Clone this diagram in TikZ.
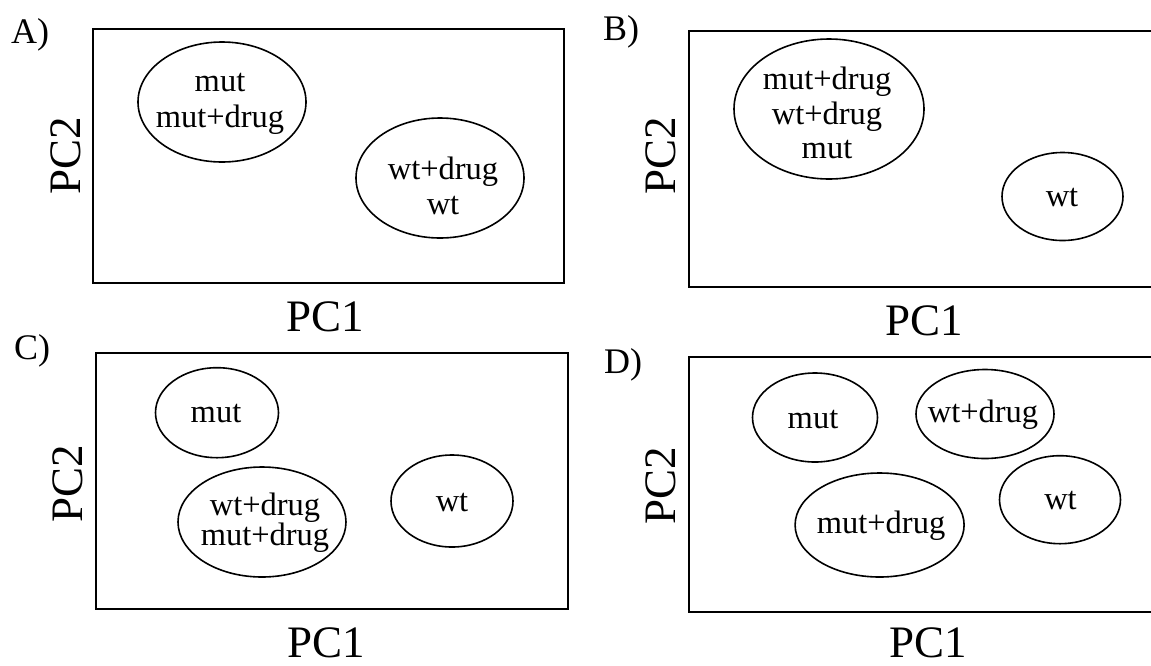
\documentclass[tikz,border=0pt]{standalone}
\usepackage{fontspec}
\setmainfont{Liberation Serif}
\usetikzlibrary{shapes.geometric}
\begin{document}
\begin{tikzpicture}[x=1pt,y=-1pt,
  frame/.style={draw, line width=1.7pt},
  blob/.style={draw, ellipse, line width=1.6pt, inner sep=0pt},
  grp/.style={inner sep=0pt, align=center, font=\fontsize{32.5}{36}\selectfont},
  axis/.style={inner sep=0pt, anchor=base, font=\fontsize{45}{50}\selectfont},
  tag/.style={inner sep=0pt, anchor=base west, font=\fontsize{36}{40}\selectfont}
]
\useasboundingbox[fill=white] (0,0) rectangle (1151,665);

% ---------- Panel A ----------
\node[tag] (tA) at (11,43) {A)};
\draw[frame] (93,29) rectangle (564,283);
\node[axis] (xA) at (325,331.5) {PC1};
\node[axis, rotate=90] (yA) at (80,156) {PC2};
\node[blob, minimum width=168pt, minimum height=120pt] (a1) at (222,102) {};
\node[grp] (a1t) at (220,104) {mut\\mut+drug};
\node[blob, minimum width=168pt, minimum height=120pt] (a2) at (440,178) {};
\node[grp, font=\fontsize{32.5}{35}\selectfont] (a2t) at (443,185.5) {wt+drug\\wt};

% ---------- Panel B ----------
\node[tag] (tB) at (603,40) {B)};
\draw[frame] (689,31) rectangle (1156,287);
\node[axis] (xB) at (924,335.5) {PC1};
\node[axis, rotate=90] (yB) at (675,156) {PC2};
\node[blob, minimum width=190pt, minimum height=140pt] (b1) at (829,109) {};
\node[grp, font=\fontsize{32.5}{34.2}\selectfont] (b1t) at (827,113) {mut+drug\\wt+drug\\mut};
\node[blob, minimum width=121pt, minimum height=88pt] (b2) at (1062.5,196.5) {};
\node[grp] (b2t) at (1062,198) {wt};

% ---------- Panel C ----------
\node[tag] (tC) at (14,359) {C)};
\draw[frame] (96,353) rectangle (568,609);
\node[axis] (xC) at (326,657) {PC1};
\node[axis, rotate=90] (yC) at (82,484) {PC2};
\node[blob, minimum width=123pt, minimum height=90pt] (c1) at (217,412.7) {};
\node[grp] (c1t) at (216,414) {mut};
\node[blob, minimum width=168pt, minimum height=110pt] (c2) at (262,522) {};
\node[grp, font=\fontsize{32.5}{30}\selectfont] (c2t) at (265,522.5) {wt+drug\\mut+drug};
\node[blob, minimum width=122pt, minimum height=92pt] (c3) at (452,501) {};
\node[grp] (c3t) at (452,502) {wt};

% ---------- Panel D ----------
\node[tag] (tD) at (604,373) {D)};
\draw[frame] (689,357) rectangle (1156,612);
\node[axis] (xD) at (928.5,657.5) {PC1};
\node[axis, rotate=90] (yD) at (675,486) {PC2};
\node[blob, minimum width=125pt, minimum height=89pt] (d1) at (815,417.5) {};
\node[grp] (d1t) at (813,419.7) {mut};
\node[blob, minimum width=138pt, minimum height=89pt] (d2) at (985,414) {};
\node[grp] (d2t) at (983,415) {wt+drug};
\node[blob, minimum width=169pt, minimum height=104pt] (d3) at (879.6,525) {};
\node[grp] (d3t) at (881,525.5) {mut+drug};
\node[blob, minimum width=121pt, minimum height=88pt] (d4) at (1060,499.7) {};
\node[grp] (d4t) at (1060.5,500.7) {wt};
\end{tikzpicture}
\end{document}
